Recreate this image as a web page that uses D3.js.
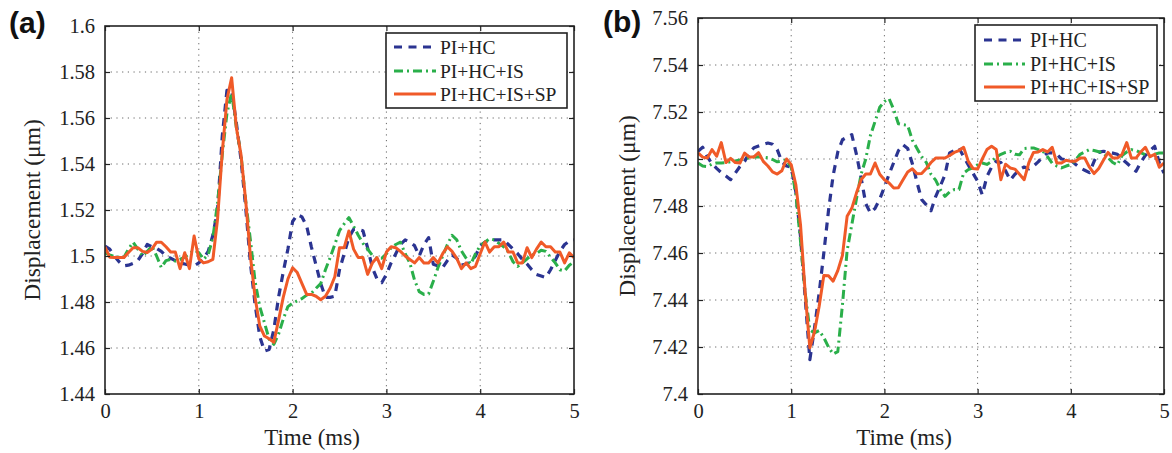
<!DOCTYPE html>
<html><head><meta charset="utf-8">
<script src="https://cdn.jsdelivr.net/npm/d3@7"></script>
<style>body{margin:0;background:#fff}svg{display:block}</style>
</head><body>
<svg id="chart" width="1172" height="453"></svg>
<script>
const times = [0,0.05,0.1,0.15,0.2,0.25,0.3,0.35,0.4,0.45,
0.5,0.55,0.6,0.65,0.7,0.75,0.8,0.85,0.9,0.95,
1,1.05,1.1,1.15,1.2,1.25,1.3,1.35,1.4,1.45,
1.5,1.55,1.6,1.65,1.7,1.75,1.8,1.85,1.9,1.95,
2,2.05,2.1,2.15,2.2,2.25,2.3,2.35,2.4,2.45,
2.5,2.55,2.6,2.65,2.7,2.75,2.8,2.85,2.9,2.95,
3,3.05,3.1,3.15,3.2,3.25,3.3,3.35,3.4,3.45,
3.5,3.55,3.6,3.65,3.7,3.75,3.8,3.85,3.9,3.95,
4,4.05,4.1,4.15,4.2,4.25,4.3,4.35,4.4,4.45,
4.5,4.55,4.6,4.65,4.7,4.75,4.8,4.85,4.9,4.95,5];

const seriesNames = ["PI+HC", "PI+HC+IS", "PI+HC+IS+SP"];

const aBlue = [1.5043,1.503,1.5,1.4975,1.4957,1.496,1.4968,1.498,1.501,1.505,
1.504,1.5033,1.502,1.5,1.499,1.498,1.497,1.4965,1.496,1.4957,
1.497,1.499,1.502,1.509,1.52,1.552,1.572,1.572,1.558,1.542,
1.521,1.497,1.479,1.465,1.4587,1.4594,1.468,1.482,1.493,1.503,
1.515,1.518,1.517,1.513,1.504,1.496,1.488,1.482,1.482,1.4825,
1.494,1.501,1.508,1.5116,1.5116,1.511,1.5035,1.495,1.49,1.4884,
1.492,1.497,1.501,1.505,1.507,1.506,1.5045,1.5,1.505,1.508,
1.4964,1.4957,1.495,1.498,1.5005,1.499,1.496,1.4965,1.4975,1.5,
1.5045,1.506,1.507,1.507,1.507,1.507,1.505,1.503,1.501,1.4985,
1.4965,1.494,1.492,1.4913,1.4906,1.494,1.498,1.502,1.505,1.5065,
1.507];
const aGreen = [1.5014,1.5005,1.4998,1.4995,1.4993,1.503,1.506,1.503,1.5,1.502,
1.5043,1.5,1.495,1.498,1.4985,1.4978,1.4985,1.4995,1.501,1.5025,
1.5015,1.4986,1.5005,1.508,1.523,1.544,1.562,1.571,1.556,1.544,
1.524,1.507,1.489,1.478,1.471,1.4638,1.4616,1.466,1.4725,1.478,
1.4795,1.4805,1.4815,1.483,1.4838,1.486,1.488,1.494,1.4993,1.505,
1.511,1.514,1.5167,1.513,1.509,1.5055,1.503,1.5003,1.499,1.499,
1.501,1.5035,1.505,1.506,1.501,1.497,1.4895,1.4845,1.4833,1.4835,
1.489,1.495,1.5,1.505,1.509,1.507,1.5022,1.499,1.4965,1.501,
1.5045,1.506,1.5075,1.507,1.5055,1.504,1.5017,1.4975,1.4955,1.497,
1.4988,1.5005,1.501,1.5025,1.502,1.4995,1.497,1.494,1.4935,1.496,
1.4975];
const aOrange = [1.504,1.4995,1.4993,1.4993,1.4993,1.5015,1.5036,1.5036,1.502,1.5015,
1.503,1.506,1.506,1.504,1.5017,1.5017,1.4945,1.5014,1.4945,1.5087,
1.4988,1.497,1.4975,1.4985,1.516,1.545,1.568,1.5775,1.556,1.544,
1.524,1.5,1.482,1.4696,1.4652,1.464,1.4625,1.472,1.482,1.49,
1.4949,1.4928,1.488,1.4833,1.4833,1.4825,1.481,1.4825,1.486,1.491,
1.5036,1.5036,1.5109,1.503,1.4993,1.4993,1.492,1.497,1.4993,1.4945,
1.5017,1.504,1.5036,1.502,1.5,1.4985,1.497,1.4993,1.497,1.497,
1.4993,1.497,1.501,1.504,1.502,1.499,1.4945,1.497,1.4945,1.4955,
1.501,1.5061,1.5017,1.504,1.504,1.5061,1.5017,1.5017,1.497,1.497,
1.5036,1.4993,1.503,1.5061,1.504,1.504,1.5017,1.5017,1.497,1.5014,
1.4993];

const bBlue = [7.5033,7.505,7.501,7.498,7.496,7.4942,7.4928,7.4912,7.494,7.4968,
7.499,7.5025,7.5048,7.5055,7.5062,7.5068,7.5063,7.504,7.4988,7.497,
7.4965,7.486,7.467,7.441,7.4146,7.428,7.443,7.46,7.478,7.493,
7.503,7.5082,7.5093,7.5104,7.502,7.492,7.481,7.477,7.479,7.483,
7.488,7.4935,7.4985,7.5035,7.5061,7.5045,7.498,7.49,7.4827,7.4805,
7.478,7.484,7.4885,7.4933,7.5026,7.5036,7.5047,7.501,7.4975,7.494,
7.4905,7.4848,7.4925,7.4965,7.499,7.4985,7.495,7.491,7.4935,7.4955,
7.4966,7.4958,7.497,7.4988,7.501,7.5026,7.5026,7.502,7.5,7.4997,
7.4995,7.4978,7.4962,7.4952,7.4942,7.499,7.5028,7.5033,7.503,7.5025,
7.502,7.5,7.4983,7.4965,7.4948,7.4985,7.5015,7.5036,7.5054,7.4983,
7.494];
const bGreen = [7.4983,7.497,7.4968,7.4978,7.4983,7.4983,7.4985,7.4988,7.4992,7.4996,
7.5001,7.5005,7.5009,7.501,7.5008,7.5005,7.4998,7.4988,7.499,7.4996,
7.4965,7.485,7.465,7.443,7.4272,7.426,7.427,7.424,7.42,7.417,
7.418,7.438,7.461,7.472,7.483,7.4935,7.5,7.51,7.516,7.522,
7.5245,7.5257,7.5211,7.515,7.5146,7.5143,7.508,7.5045,7.501,7.4985,
7.4935,7.491,7.487,7.4841,7.486,7.487,7.487,7.494,7.4955,7.4962,
7.4975,7.4983,7.4977,7.499,7.5008,7.502,7.5028,7.5033,7.502,7.5018,
7.5045,7.5047,7.5047,7.504,7.5033,7.501,7.4982,7.497,7.4962,7.497,
7.4976,7.4995,7.502,7.503,7.504,7.5036,7.5031,7.5026,7.5005,7.4985,
7.4975,7.5015,7.503,7.504,7.5036,7.5027,7.5018,7.5011,7.502,7.5026,
7.5026];
const bOrange = [7.5026,7.5008,7.5004,7.504,7.5012,7.507,7.4985,7.5003,7.4985,7.4983,
7.5025,7.5008,7.5009,7.5027,7.499,7.497,7.4945,7.4936,7.495,7.5,
7.4976,7.489,7.472,7.443,7.4196,7.4265,7.4373,7.4504,7.4503,7.448,
7.4525,7.459,7.4756,7.479,7.4855,7.4912,7.4936,7.4936,7.4983,7.4935,
7.4912,7.4898,7.4877,7.4878,7.4912,7.4945,7.4958,7.4937,7.4938,7.496,
7.4985,7.5004,7.5004,7.5004,7.5015,7.5028,7.5036,7.505,7.499,7.496,
7.4957,7.5,7.504,7.5054,7.504,7.4912,7.4978,7.4962,7.4957,7.4935,
7.4912,7.4985,7.5028,7.503,7.504,7.503,7.505,7.4983,7.4983,7.4995,
7.499,7.499,7.5004,7.5004,7.4965,7.4938,7.496,7.4995,7.5028,7.5004,
7.5004,7.502,7.507,7.5004,7.5004,7.503,7.505,7.501,7.502,7.4965,
7.4983];

const xTicks = [0, 1, 2, 3, 4, 5];
const aYTicks = [1.44, 1.46, 1.48, 1.5, 1.52, 1.54, 1.56, 1.58, 1.6];
const bYTicks = [7.4, 7.42, 7.44, 7.46, 7.48, 7.5, 7.52, 7.54, 7.56];
const xLabel = "Time (ms)";
const yLabel = "Displacement (\u03bcm)";

const colors = ["#2b3491", "#2aaf4a", "#f05a28"];
const dashes = ["8,6.5", "9,4,2,4", null];
const widths = [3.2, 3, 3];

const SERIF = "'Liberation Serif','Times New Roman',Times,serif";
const SANS = "'Liberation Sans',Arial,Helvetica,sans-serif";
const svg = d3.select("#chart");

const panels = [
  {tag: "(a)", tagX: 9, tagY: 33, left: 105, right: 574, top: 26, bottom: 394,
   yDomain: [1.44, 1.6], yTicks: aYTicks, series: [aBlue, aGreen, aOrange],
   yLabX: 32, xLabX: 312, legend: {x: 386, y: 33, w: 181, h: 75, s0: 394, s1: 436, tx: 440, rows: [47, 71, 94], fs: 19.5}},
  {tag: "(b)", tagX: 603, tagY: 32, left: 698, right: 1164, top: 18, bottom: 394,
   yDomain: [7.4, 7.56], yTicks: bYTicks, series: [bBlue, bGreen, bOrange],
   yLabX: 627, xLabX: 904, legend: {x: 975, y: 25, w: 182, h: 76, s0: 984, s1: 1025, tx: 1030, rows: [40, 64, 87], fs: 20}}
];

panels.forEach((p, pi) => {
  const x = d3.scaleLinear().domain([0, 5]).range([p.left, p.right]);
  const y = d3.scaleLinear().domain(p.yDomain).range([p.bottom, p.top]);
  const g = svg.append("g");

  // grid
  const grid = g.append("g").attr("stroke", "#666").attr("stroke-width", 1)
    .attr("stroke-dasharray", "1.2,4.5");
  grid.selectAll("line.gx").data(xTicks.slice(1, -1)).join("line")
    .attr("x1", d => x(d)).attr("x2", d => x(d)).attr("y1", p.top).attr("y2", p.bottom);
  grid.selectAll("line.gy").data(p.yTicks.slice(1, -1)).join("line")
    .attr("class", "gy")
    .attr("x1", p.left).attr("x2", p.right).attr("y1", d => y(d)).attr("y2", d => y(d));

  // lines
  const clipId = "clip" + pi;
  svg.append("clipPath").attr("id", clipId).append("rect")
    .attr("x", p.left).attr("y", p.top).attr("width", p.right - p.left).attr("height", p.bottom - p.top);
  const line = d3.line().x((d, i) => x(times[i])).y(d => y(d));
  const lg = g.append("g").attr("clip-path", `url(#${clipId})`);
  p.series.forEach((s, si) => {
    lg.append("path").datum(s).attr("d", line)
      .attr("fill", "none").attr("stroke", colors[si]).attr("stroke-width", widths[si])
      .attr("stroke-linejoin", "round")
      .attr("stroke-dasharray", dashes[si]);
  });

  // axes with inward ticks
  const fmt = d => String(+d.toFixed(2));
  const ax = (gen, tr) => {
    const a = g.append("g").attr("transform", tr).call(gen);
    a.select(".domain").remove();
    a.selectAll(".tick line").attr("stroke", "#222").attr("stroke-width", 1.2);
    a.selectAll("text").attr("font-family", SERIF).attr("font-size", 20.5).attr("fill", "#222");
    return a;
  };
  ax(d3.axisLeft(y).tickValues(p.yTicks).tickFormat(fmt).tickSizeInner(-5).tickSizeOuter(0).tickPadding(10), `translate(${p.left},0)`);
  ax(d3.axisRight(y).tickValues(p.yTicks).tickFormat("").tickSizeInner(-5).tickSizeOuter(0), `translate(${p.right},0)`);
  ax(d3.axisBottom(x).tickValues(xTicks).tickFormat(d3.format("d")).tickSizeInner(-5).tickSizeOuter(0).tickPadding(9), `translate(0,${p.bottom})`);
  ax(d3.axisTop(x).tickValues(xTicks).tickFormat("").tickSizeInner(-5).tickSizeOuter(0), `translate(0,${p.top})`);

  // frame
  g.append("rect").attr("x", p.left).attr("y", p.top)
    .attr("width", p.right - p.left).attr("height", p.bottom - p.top)
    .attr("fill", "none").attr("stroke", "#222").attr("stroke-width", 1.6);

  // axis labels
  g.append("text").attr("x", p.xLabX).attr("y", 445).attr("text-anchor", "middle")
    .attr("font-family", SERIF).attr("font-size", 23).attr("fill", "#222").text(xLabel);
  g.append("text").attr("transform", `translate(${p.yLabX},${(p.top + p.bottom) / 2}) rotate(-90)`)
    .attr("dy", "0.35em").attr("text-anchor", "middle")
    .attr("font-family", SERIF).attr("font-size", 23.5).attr("fill", "#222").text(yLabel);

  // panel tag
  g.append("text").attr("x", p.tagX).attr("y", p.tagY)
    .attr("font-family", SANS).attr("font-weight", "bold").attr("font-size", 30).attr("fill", "#111").text(p.tag);

  // legend
  const L = p.legend;
  const leg = g.append("g");
  leg.append("rect").attr("x", L.x).attr("y", L.y).attr("width", L.w).attr("height", L.h)
    .attr("fill", "#fff").attr("stroke", "#222").attr("stroke-width", 1.6);
  seriesNames.forEach((name, si) => {
    leg.append("line").attr("x1", L.s0).attr("x2", L.s1).attr("y1", L.rows[si]).attr("y2", L.rows[si])
      .attr("stroke", colors[si]).attr("stroke-width", widths[si]).attr("stroke-dasharray", dashes[si]);
    leg.append("text").attr("x", L.tx).attr("y", L.rows[si]).attr("dy", "0.35em")
      .attr("font-family", SERIF).attr("font-size", L.fs).attr("fill", "#222").text(name);
  });
});
</script>
</body></html>
